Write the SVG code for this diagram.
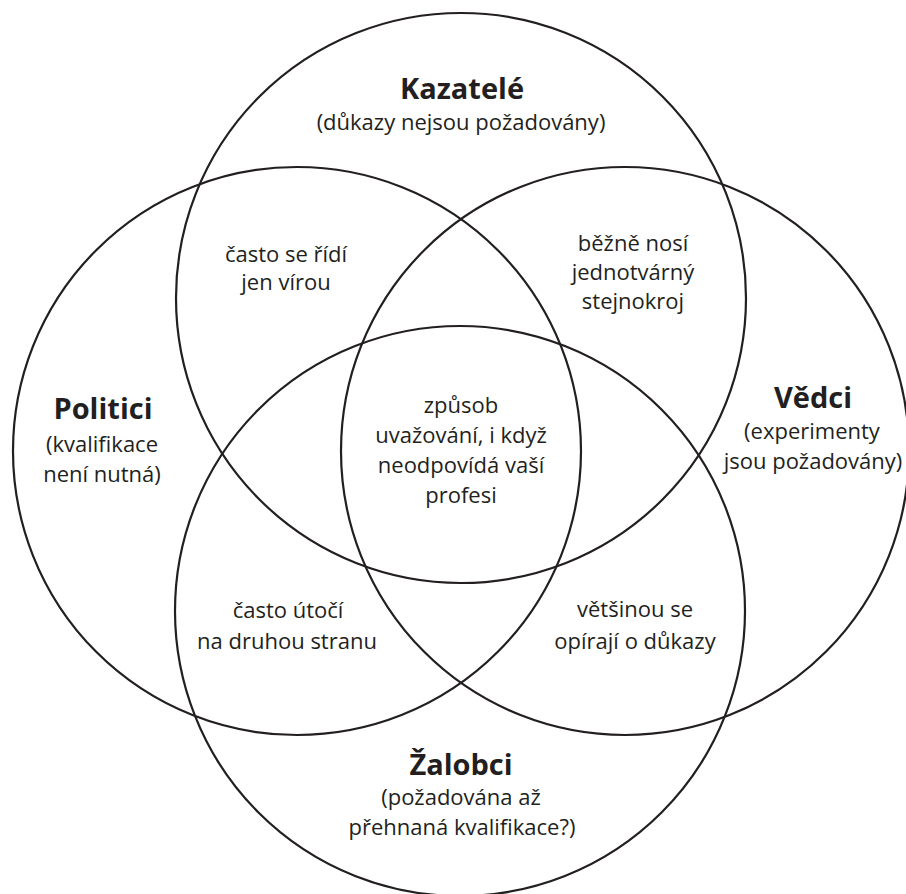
<svg xmlns="http://www.w3.org/2000/svg" width="906" height="894" viewBox="0 0 906 894">
<style>
.c{fill:none;stroke:#231f20;stroke-width:2.2}
text{font-family:"Open Sans","Noto Sans","Liberation Sans",sans-serif;fill:#231f20;text-anchor:middle;font-size:22px}
.t{font-weight:bold;font-size:29px}
</style>
<rect width="906" height="894" fill="#fff"/>
<g id="kazatele">
<circle class="c" cx="461" cy="298" r="285"/>
<text class="t" x="462" y="99">Kazatelé</text>
<text x="461" y="130">(důkazy nejsou požadovány)</text>
</g>
<g id="politici">
<circle class="c" cx="297" cy="451" r="284"/>
<text class="t" x="103" y="419">Politici</text>
<text x="102" y="452">(kvalifikace</text>
<text x="102" y="482">není nutná)</text>
</g>
<g id="vedci">
<circle class="c" cx="625" cy="451" r="284"/>
<text class="t" x="813" y="408">Vědci</text>
<text x="812" y="439">(experimenty</text>
<text x="813" y="469">jsou požadovány)</text>
</g>
<g id="zalobci">
<circle class="c" cx="460" cy="611" r="285"/>
<text class="t" x="461" y="775">Žalobci</text>
<text x="461" y="805">(požadována až</text>
<text x="462" y="835">přehnaná kvalifikace?)</text>
</g>
<g id="kazatele-politici">
<text x="286" y="262">často se řídí</text>
<text x="286" y="290">jen vírou</text>
</g>
<g id="kazatele-vedci">
<text x="633" y="251">běžně nosí</text>
<text x="633" y="280">jednotvárný</text>
<text x="633" y="309">stejnokroj</text>
</g>
<g id="stred">
<text x="461" y="413">způsob</text>
<text x="461" y="443">uvažování, i když</text>
<text x="461" y="473">neodpovídá vaší</text>
<text x="461" y="503">profesi</text>
</g>
<g id="politici-zalobci">
<text x="288" y="618">často útočí</text>
<text x="287" y="649">na druhou stranu</text>
</g>
<g id="vedci-zalobci">
<text x="635" y="617">většinou se</text>
<text x="635" y="649">opírají o důkazy</text>
</g>
<g id="connectors"/>
</svg>
